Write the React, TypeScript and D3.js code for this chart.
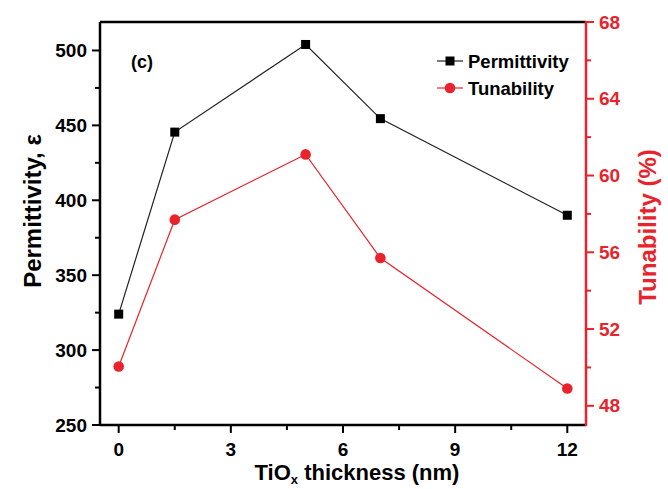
import React from "react";
import * as d3 from "d3";

const thickness = [0, 1.5, 5, 7, 12];
const permittivity = [324, 445.5, 504, 454.5, 390];
const tunability = [50.05, 57.7, 61.1, 55.7, 48.9];
const xTicks = [0, 3, 6, 9, 12];
const xMinorTicks = [1.5, 4.5, 7.5, 10.5];
const leftTicks = [250, 300, 350, 400, 450, 500];
const leftMinorTicks = [275, 325, 375, 425, 475];
const rightTicks = [48, 52, 56, 60, 64, 68];
const rightMinorTicks = [50, 54, 58, 62, 66];

const W = 668;
const H = 489;
const M = { left: 100, right: 586, top: 22, bottom: 425 };
const RED = "#e8232b";
const FONT = "'Liberation Sans', Arial, sans-serif";

export default function App() {
  const x = d3.scaleLinear().domain([-0.5, 12.5]).range([M.left, M.right]);
  const yL = d3.scaleLinear().domain([250, 519]).range([M.bottom, M.top]);
  const yR = d3.scaleLinear().domain([47, 68]).range([M.bottom, M.top]);

  const permData = thickness.map((t, i) => [t, permittivity[i]] as [number, number]);
  const tunData = thickness.map((t, i) => [t, tunability[i]] as [number, number]);
  const lineL = d3.line<[number, number]>().x((d) => x(d[0])).y((d) => yL(d[1]));
  const lineR = d3.line<[number, number]>().x((d) => x(d[0])).y((d) => yR(d[1]));

  return (
    <svg
      width={W}
      height={H}
      style={{ position: "absolute", left: 0, top: 0, background: "#fff" }}
      fontFamily={FONT}
      fontWeight="bold"
    >
      {/* frame */}
      <line x1={M.left} x2={M.right} y1={M.top} y2={M.top} stroke="#000" strokeWidth={2.5} />
      <line x1={M.left} x2={M.right} y1={M.bottom} y2={M.bottom} stroke="#000" strokeWidth={2.5} />
      <line x1={M.left} x2={M.left} y1={M.top} y2={M.bottom} stroke="#000" strokeWidth={2.5} />
      <line x1={M.right} x2={M.right} y1={M.top - 1} y2={M.bottom + 1} stroke={RED} strokeWidth={2.5} />

      {/* x ticks */}
      {xTicks.map((t) => (
        <g key={"xt" + t}>
          <line x1={x(t)} x2={x(t)} y1={M.bottom} y2={M.bottom + 8} stroke="#000" strokeWidth={2} />
          <text x={x(t)} y={456} textAnchor="middle" fontSize={19} fill="#000">
            {t}
          </text>
        </g>
      ))}
      {xMinorTicks.map((t) => (
        <line key={"xm" + t} x1={x(t)} x2={x(t)} y1={M.bottom} y2={M.bottom + 5} stroke="#000" strokeWidth={2} />
      ))}

      {/* left ticks */}
      {leftTicks.map((t) => (
        <g key={"lt" + t}>
          <line x1={M.left - 8} x2={M.left} y1={yL(t)} y2={yL(t)} stroke="#000" strokeWidth={2} />
          <text x={M.left - 13} y={yL(t) + 6.5} textAnchor="end" fontSize={19} fill="#000">
            {t}
          </text>
        </g>
      ))}
      {leftMinorTicks.map((t) => (
        <line key={"lm" + t} x1={M.left - 5} x2={M.left} y1={yL(t)} y2={yL(t)} stroke="#000" strokeWidth={2} />
      ))}

      {/* right ticks */}
      {rightTicks.map((t) => (
        <g key={"rt" + t}>
          <line x1={M.right} x2={M.right + 8} y1={yR(t)} y2={yR(t)} stroke={RED} strokeWidth={2} />
          <text x={M.right + 13} y={yR(t) + 6.5} textAnchor="start" fontSize={19} fill={RED}>
            {t}
          </text>
        </g>
      ))}
      {rightMinorTicks.map((t) => (
        <line key={"rm" + t} x1={M.right} x2={M.right + 5} y1={yR(t)} y2={yR(t)} stroke={RED} strokeWidth={2} />
      ))}

      {/* axis titles */}
      <text x={357} y={480} textAnchor="middle" fontSize={22} fill="#000">
        TiO
        <tspan fontSize={13} dy={4}>x</tspan>
        <tspan dy={-4}> thickness (nm)</tspan>
      </text>
      <text
        transform={`translate(41,211) rotate(-90)`}
        textAnchor="middle"
        fontSize={24}
        fill="#000"
      >
        Permittivity, ε
      </text>
      <text
        transform={`translate(656,227) rotate(-90)`}
        textAnchor="middle"
        fontSize={24}
        fill={RED}
      >
        Tunability (%)
      </text>

      {/* data lines */}
      <path d={lineL(permData) ?? ""} fill="none" stroke="#222" strokeWidth={1.2} />
      <path d={lineR(tunData) ?? ""} fill="none" stroke={RED} strokeWidth={1.2} />
      {permData.map((d, i) => (
        <rect key={"p" + i} x={x(d[0]) - 4.5} y={yL(d[1]) - 4.5} width={9} height={9} fill="#000" />
      ))}
      {tunData.map((d, i) => (
        <circle key={"c" + i} cx={x(d[0])} cy={yR(d[1])} r={5.3} fill={RED} />
      ))}

      {/* panel label */}
      <text x={131} y={68} fontSize={18} fill="#000">(c)</text>

      {/* legend */}
      <line x1={437} x2={463} y1={61} y2={61} stroke="#222" strokeWidth={1.2} />
      <rect x={445.5} y={56.5} width={9} height={9} fill="#000" />
      <text x={468} y={67.5} fontSize={18.5} fill="#000">Permittivity</text>
      <line x1={437} x2={463} y1={88} y2={88} stroke={RED} strokeWidth={1.2} />
      <circle cx={450} cy={88} r={5.3} fill={RED} />
      <text x={468} y={94.5} fontSize={18.5} fill="#000">Tunability</text>
    </svg>
  );
}
